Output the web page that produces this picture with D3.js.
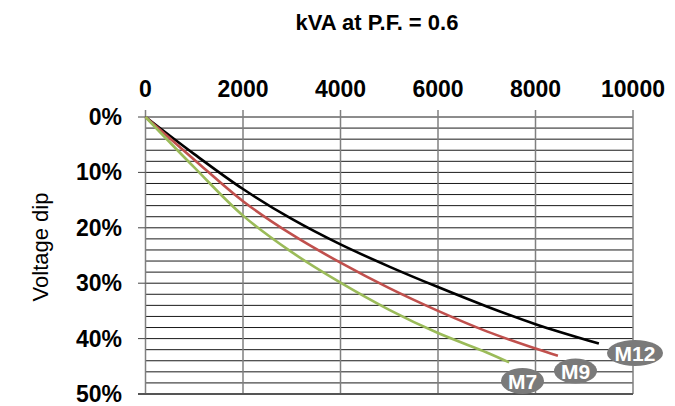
<!DOCTYPE html>
<html>
<head>
<meta charset="utf-8">
<script src="https://cdn.jsdelivr.net/npm/d3@7"></script>
<style>
  body { margin: 0; background: #fff; }
  svg { display: block; font-family: "Liberation Sans", Arial, sans-serif; }
</style>
</head>
<body>
<svg id="chart" width="675" height="406"></svg>
<script>
// kVA values and voltage dip (%)
const kvaM12 = [0, 1000, 2000, 3000, 4000, 5000, 6000, 7000, 8000, 9300];
const dipM12 = [0, 6.7, 13.0, 18.4, 23.0, 27.0, 30.7, 34.2, 37.4, 40.9];

const kvaM9 = [0, 1000, 2000, 3000, 4000, 5000, 6000, 7000, 8000, 8460];
const dipM9 = [0, 7.7, 15.2, 21.2, 26.3, 30.9, 35.0, 38.7, 41.8, 43.1];

const kvaM7 = [0, 1000, 2000, 3000, 4000, 5000, 6000, 7000, 7460];
const dipM7 = [0, 9.1, 17.8, 24.4, 29.9, 34.8, 39.0, 42.5, 44.3];

const seriesNames = ["M12", "M9", "M7"];
const seriesColors = ["#000000", "#c0504d", "#9bbb59"];
const xTicks = [0, 2000, 4000, 6000, 8000, 10000];
const yTicks = [0, 10, 20, 30, 40, 50];

const svg = d3.select("#chart");

const x = d3.scaleLinear().domain([0, 10000]).range([145.5, 633]);
const y = d3.scaleLinear().domain([0, 50]).range([117, 394]);

// title
svg.append("text")
  .attr("x", 377).attr("y", 30)
  .attr("text-anchor", "middle")
  .attr("font-size", 22).attr("font-weight", "bold")
  .text("kVA at P.F. = 0.6");

// horizontal grid, every 2%
svg.append("g")
  .selectAll("line")
  .data(d3.range(0, 50, 2))
  .enter().append("line")
  .attr("x1", x(0)).attr("x2", x(10000))
  .attr("y1", d => y(d)).attr("y2", d => y(d))
  .attr("stroke", "#1a1a1a").attr("stroke-width", 1);

// vertical grid
svg.append("g")
  .selectAll("line")
  .data(xTicks)
  .enter().append("line")
  .attr("x1", d => x(d)).attr("x2", d => x(d))
  .attr("y1", 110).attr("y2", y(50))
  .attr("stroke", "#808080").attr("stroke-width", 1.5);

// left ticks
svg.append("g")
  .selectAll("line")
  .data(yTicks)
  .enter().append("line")
  .attr("x1", 138).attr("x2", x(0))
  .attr("y1", d => y(d)).attr("y2", d => y(d))
  .attr("stroke", "#444").attr("stroke-width", 1);

// bottom axis line
svg.append("line")
  .attr("x1", 138).attr("x2", x(10000))
  .attr("y1", y(50)).attr("y2", y(50))
  .attr("stroke", "#555").attr("stroke-width", 2);

// top tick labels
svg.append("g")
  .selectAll("text")
  .data(xTicks)
  .enter().append("text")
  .attr("x", d => x(d)).attr("y", 97)
  .attr("text-anchor", "middle")
  .attr("font-size", 23).attr("font-weight", "bold")
  .text(d => d);

// left tick labels
svg.append("g")
  .selectAll("text")
  .data(yTicks)
  .enter().append("text")
  .attr("x", 122).attr("y", d => y(d) + 8)
  .attr("text-anchor", "end")
  .attr("font-size", 23).attr("font-weight", "bold")
  .text(d => d + "%");

// y axis title
svg.append("text")
  .attr("transform", "translate(48,247) rotate(-90)")
  .attr("text-anchor", "middle")
  .attr("font-size", 22)
  .text("Voltage dip");

// curves
const line = d3.line()
  .x(d => x(d[0]))
  .y(d => y(d[1]))
  .curve(d3.curveCatmullRom.alpha(0.5));

const series = [
  d3.zip(kvaM12, dipM12),
  d3.zip(kvaM9, dipM9),
  d3.zip(kvaM7, dipM7)
];

svg.append("g")
  .selectAll("path")
  .data(series)
  .enter().append("path")
  .attr("d", line)
  .attr("fill", "none")
  .attr("stroke", (d, i) => seriesColors[i])
  .attr("stroke-width", 2.6);

// end labels
const labels = [
  { name: seriesNames[0], cx: 635, cy: 353, rx: 28, ry: 13 },
  { name: seriesNames[1], cx: 575.5, cy: 371, rx: 21.5, ry: 12.5 },
  { name: seriesNames[2], cx: 522.5, cy: 381, rx: 21.5, ry: 13 }
];

const lab = svg.append("g")
  .selectAll("g")
  .data(labels)
  .enter().append("g");

lab.append("ellipse")
  .attr("cx", d => d.cx).attr("cy", d => d.cy)
  .attr("rx", d => d.rx).attr("ry", d => d.ry)
  .attr("fill", "#7a7a7a");

lab.append("text")
  .attr("x", d => d.cx).attr("y", d => d.cy + 7.5)
  .attr("text-anchor", "middle")
  .attr("font-size", 21).attr("font-weight", "bold")
  .attr("fill", "#fff")
  .text(d => d.name);
</script>
</body>
</html>
